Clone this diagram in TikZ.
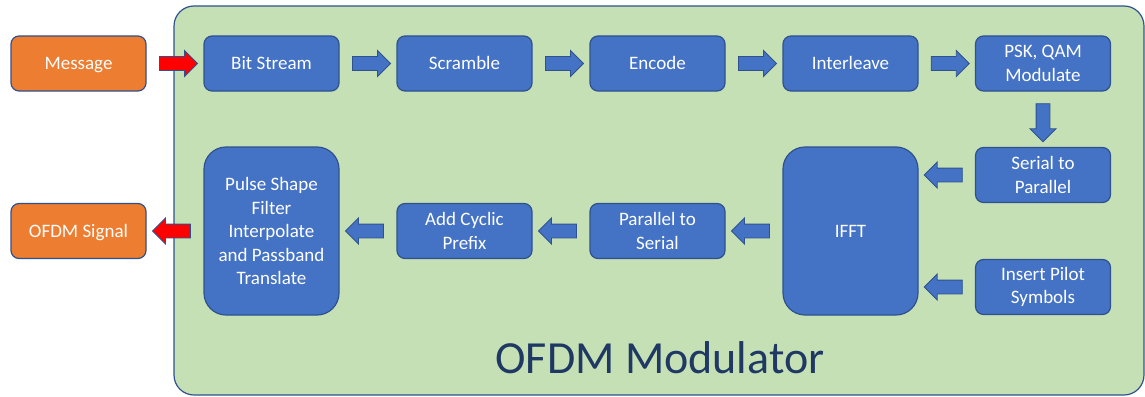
\documentclass[tikz,border=0pt]{standalone}
\usepackage{fontspec}
\setmainfont{Carlito}
\usetikzlibrary{shapes.arrows,calc}
\definecolor{boxblue}{HTML}{4472C4}
\definecolor{edgeblue}{HTML}{2F528F}
\definecolor{ioorange}{HTML}{ED7D31}
\definecolor{panelgreen}{HTML}{C5E0B4}
\definecolor{titlenavy}{HTML}{1F3864}
\definecolor{flowred}{HTML}{FF0000}
\tikzset{
  stage/.style={draw=edgeblue, line width=1.2pt, fill=boxblue, rounded corners=8pt,
    minimum width=135pt, minimum height=55pt, text=white, align=center,
    inner sep=2pt, font=\fontsize{19}{23.5}\selectfont},
  oneline/.style={text height=12.2pt, text depth=0pt},
  tallstage/.style={stage, minimum height=168pt, rounded corners=22pt},
  iobox/.style={stage, fill=ioorange},
  blockarrow/.style={single arrow, draw=edgeblue, line width=0.9pt, fill=boxblue,
    inner sep=6.5pt, single arrow head extend=6pt, single arrow tip angle=90,
    minimum height=38pt},
  redarrow/.style={blockarrow, fill=flowred},
  pointleft/.style={shape border rotate=180},
  pointdown/.style={shape border rotate=270}
}
\begin{document}
\begin{tikzpicture}[x=1pt, y=-1pt]
\useasboundingbox (0,0) rectangle (1145,396);
% modulator panel
\draw[draw=edgeblue, line width=1.2pt, fill=panelgreen, rounded corners=20pt]
  (174,6) rectangle (1144,395);
\node[text=titlenavy, font=\fontsize{46}{50}\selectfont, anchor=base] (title) at (660,373) {OFDM Modulator};
% top row
\node[iobox, oneline] (msg) at (78.5,63.5) {Message};
\node[stage, oneline] (bits) at (271.5,63.5) {Bit Stream};
\node[stage, oneline] (scr) at (464.5,63.5) {Scramble};
\node[stage, oneline] (enc) at (657.5,63.5) {Encode};
\node[stage, oneline] (intl) at (850.5,63.5) {Interleave};
\node[stage] (mod) at (1043,63.5) {PSK, QAM\\Modulate};
% right column
\node[stage] (s2p) at (1043,175) {Serial to\\Parallel};
\node[stage] (pilot) at (1043,287) {Insert Pilot\\Symbols};
% bottom row
\node[tallstage, oneline] (ifft) at (850.5,231) {IFFT};
\node[stage] (p2s) at (657.5,231) {Parallel to\\Serial};
\node[stage] (cp) at (464.5,231) {Add Cyclic\\Prefix};
\node[tallstage] (pulse) at (271.5,231) {Pulse Shape\\Filter\\Interpolate\\and Passband\\Translate};
\node[iobox, oneline] (out) at (78.5,231) {OFDM Signal};
% flow arrows
\node[redarrow] (a0) at ($(msg.east)!0.5!(bits.west)$) {};
\node[blockarrow] (a1) at ($(bits.east)!0.5!(scr.west)$) {};
\node[blockarrow] (a2) at ($(scr.east)!0.5!(enc.west)$) {};
\node[blockarrow] (a3) at ($(enc.east)!0.5!(intl.west)$) {};
\node[blockarrow] (a4) at ($(intl.east)!0.5!(mod.west)$) {};
\node[blockarrow, pointdown] (a5) at ($(mod.south)!0.5!(s2p.north)$) {};
\node[blockarrow, pointleft] (a6) at ($(s2p.west)!0.5!(ifft.east |- s2p.west)$) {};
\node[blockarrow, pointleft] (a7) at ($(pilot.west)!0.5!(ifft.east |- pilot.west)$) {};
\node[blockarrow, pointleft] (a8) at ($(ifft.west)!0.5!(p2s.east)$) {};
\node[blockarrow, pointleft] (a9) at ($(p2s.west)!0.5!(cp.east)$) {};
\node[blockarrow, pointleft] (a10) at ($(cp.west)!0.5!(pulse.east)$) {};
\node[redarrow, pointleft] (a11) at ($(pulse.west)!0.5!(out.east)$) {};
\end{tikzpicture}
\end{document}
